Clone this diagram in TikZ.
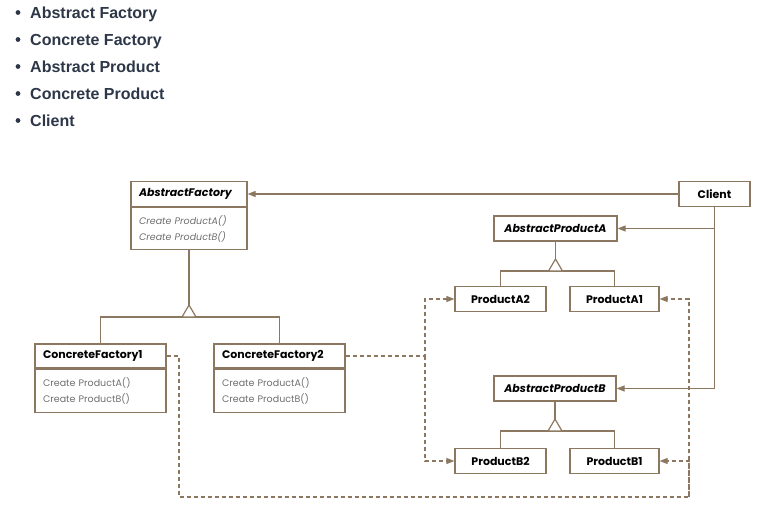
\documentclass[tikz,border=0pt]{standalone}
\usepackage{fontspec}
\setmainfont{Liberation Sans}
\newfontfamily\umlfont{Poppins}
\usetikzlibrary{arrows.meta, positioning}

\definecolor{umlline}{HTML}{8C7860}
\definecolor{listtext}{HTML}{2D3748}
\definecolor{methodtext}{HTML}{6E6E6E}

\begin{document}
\begin{tikzpicture}[x=1pt, y=-1pt,
        item/.style={anchor=base west, inner sep=0pt, text=listtext, font=\bfseries\fontsize{16}{18}\selectfont},
        box/.style={draw=umlline, line width=1.2pt, fill=white, inner sep=0pt, font=\umlfont\bfseries\fontsize{11}{13}\selectfont},
        head/.style={box, minimum height=25pt, inner xsep=8pt, align=left},
        body/.style={draw=umlline, line width=1.2pt, inner xsep=8pt, inner ysep=0pt, minimum height=42pt, align=left, text=methodtext, font=\umlfont\fontsize{9.5}{16}\selectfont},
        prod/.style={box, minimum height=25pt},
        assoc/.style={draw=umlline, line width=1.2pt, -{Triangle[length=8pt, width=6pt]}},
        dep/.style={assoc, dash pattern=on 4pt off 3pt},
        link/.style={draw=umlline, line width=1.2pt},
        inh/.style={draw=umlline, line width=1.2pt, fill=white}
    ]
        \useasboundingbox (0,0) rectangle (765,515);

        % Danh sach
        \foreach \t [count=\i] in {Abstract Factory, Concrete Factory, Abstract Product, Concrete Product, Client} {
            \node[item] (item\i) at (30, 27*\i-9) {\t};
            \fill[listtext] (18, 27*\i-14.5) circle (2.4pt);
        }

        % Cac lop factory
        \node[head, text width=100pt] (af) at (189,194) {\itshape AbstractFactory};
        \node[body, text width=100pt, below=0pt of af, font=\umlfont\itshape\fontsize{9.5}{16}\selectfont] (afm) {Create ProductA()\\Create ProductB()};
        \node[head, text width=115pt, minimum height=24pt] (cf1) at (100.5,356) {ConcreteFactory1};
        \node[body, text width=115pt, below=0pt of cf1, minimum height=43pt] (cf1m) {Create ProductA()\\Create ProductB()};
        \node[head, text width=115pt, minimum height=24pt] (cf2) at (279.5,356) {ConcreteFactory2};
        \node[body, text width=115pt, below=0pt of cf2, minimum height=43pt] (cf2m) {Create ProductA()\\Create ProductB()};

        % Client va cac san pham
        \node[prod, minimum width=71pt] (client) at (714.5,194) {Client};
        \node[prod, minimum width=123pt, font=\umlfont\bfseries\itshape\fontsize{11}{13}\selectfont] (apa) at (555.5,228.5) {AbstractProductA};
        \node[prod, minimum width=91pt] (pa2) at (500.5,299) {ProductA2};
        \node[prod, minimum width=89pt] (pa1) at (614.5,299) {ProductA1};
        \node[prod, minimum width=122pt, font=\umlfont\bfseries\itshape\fontsize{11}{13}\selectfont] (apb) at (555,388.5) {AbstractProductB};
        \node[prod, minimum width=91pt] (pb2) at (500.5,461) {ProductB2};
        \node[prod, minimum width=89pt] (pb1) at (614.5,461) {ProductB1};

        % Cac diem noi
        \coordinate (fj) at (189,317);
        \coordinate (ja) at (555.5,271);
        \coordinate (jb) at (555,431);
        \coordinate (dj2) at (425,356);
        \coordinate (dj1a) at (179,497);
        \coordinate (dj1b) at (689,497);

        % Ke thua
        \draw[link] (afm) -- (fj);
        \draw[link] (cf1) |- (fj) -| (cf2);
        \draw[inh] (fj) ++(-7,0) -- ++(7,-12) -- ++(7,12) -- cycle;
        \draw[link] (apa) -- (ja);
        \draw[link] (pa2) |- (ja) -| (pa1);
        \draw[inh] (ja) ++(-7,0) -- ++(7,-12) -- ++(7,12) -- cycle;
        \draw[link] (apb) -- (jb);
        \draw[link] (pb2) |- (jb) -| (pb1);
        \draw[inh] (jb) ++(-7,0) -- ++(7,-12) -- ++(7,12) -- cycle;

        % Lien ket tu Client
        \draw[assoc] (client) -- (af);
        \draw[assoc] (client.south) |- (apb.east);
        \draw[assoc] (client.south |- apa.east) -- (apa.east);

        % Phu thuoc (net dut)
        \draw[dep] (cf2.east) -- (dj2) |- (pa2.west);
        \draw[dep] (dj2) |- (pb2.west);
        \draw[dep] (cf1.east) -| (dj1a) -- (dj1b) |- (pa1.east);
        \draw[dep] (dj1b) |- (pb1.east);
    \end{tikzpicture}
\end{document}
